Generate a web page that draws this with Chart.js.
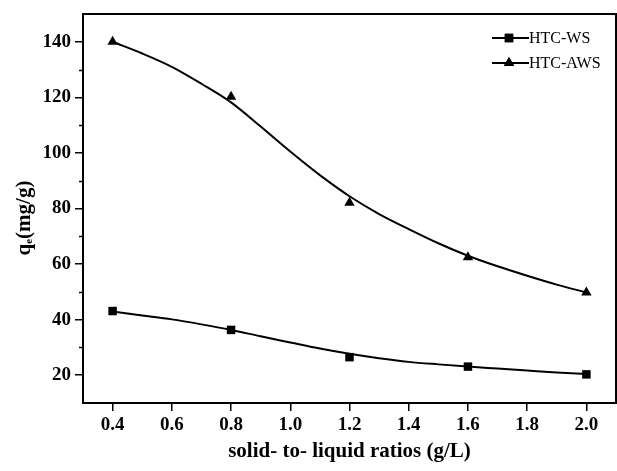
<!DOCTYPE html>
<html>
<head>
<meta charset="utf-8">
<script src="https://cdn.jsdelivr.net/npm/chart.js@4"></script>
<style>
    html, body { margin: 0; padding: 0; background: #fff; }
    #wrap { width: 617px; height: 471px; }
</style>
</head>
<body>
<div id="wrap"><canvas id="qeChart" width="617" height="471"></canvas></div>
<script>
// ============================================
// DADOS
// ============================================

const ratios = [0.4, 0.8, 1.2, 1.6, 2.0];
const wsValues = [43.1, 36.3, 26.5, 23.1, 20.3];
const awsValues = [140.0, 120.2, 82.1, 62.5, 49.8];

// curvas de ajuste, lidas ponto a ponto
const fitX = [0.4, 0.5, 0.6, 0.7, 0.8, 0.9, 1.0, 1.1, 1.2, 1.3, 1.4, 1.5, 1.6, 1.7, 1.8, 1.9, 2.0];
const wsFit = [42.9, 41.5, 40.1, 38.3, 36.3, 34.0, 31.8, 29.6, 27.7, 26.1, 24.8, 23.9, 23.1, 22.4, 21.7, 21.0, 20.4];
const awsFit = [140.0, 135.8, 131.0, 124.9, 118.2, 109.5, 100.5, 92.0, 84.4, 78.0, 72.6, 67.5, 63.0, 59.2, 55.8, 52.6, 49.8];

const xTicks = [0.4, 0.6, 0.8, 1.0, 1.2, 1.4, 1.6, 1.8, 2.0];
const yTicks = [20, 40, 60, 80, 100, 120, 140];
const yMinor = [30, 50, 70, 90, 110, 130];

const seriesNames = ['HTC-WS', 'HTC-AWS'];

const serif = "'Liberation Serif', 'Times New Roman', serif";
const toXY = (xs, ys) => xs.map((x, i) => ({ x: x, y: ys[i] }));

// ============================================
// PLUGIN: moldura, ticks menores, título Y e legenda
// ============================================

const framePlugin = {
    id: 'frame',
    afterDraw(chart) {
        const ctx = chart.ctx;
        const a = chart.chartArea;
        const yScale = chart.scales.y;
        ctx.save();
        ctx.strokeStyle = '#000';
        ctx.lineWidth = 2;
        ctx.strokeRect(a.left, a.top, a.right - a.left, a.bottom - a.top);

        // ticks menores do eixo Y
        ctx.lineWidth = 1.5;
        yMinor.forEach(v => {
            const py = Math.round(yScale.getPixelForValue(v)) + 0.5;
            ctx.beginPath();
            ctx.moveTo(a.left - 4, py);
            ctx.lineTo(a.left, py);
            ctx.stroke();
        });

        // título do eixo Y com subscrito
        ctx.translate(25, 218);
        ctx.rotate(-Math.PI / 2);
        ctx.fillStyle = '#000';
        ctx.textBaseline = 'middle';
        const big = 'bold 21px ' + serif;
        const small = 'bold 11px ' + serif;
        ctx.font = big;
        const wq = ctx.measureText('q').width;
        const wRest = ctx.measureText('(mg/g)').width;
        ctx.font = small;
        const we = ctx.measureText('e').width;
        let x0 = -(wq + we + wRest) / 2;
        ctx.font = big;
        ctx.fillText('q', x0, 0);
        ctx.font = small;
        ctx.fillText('e', x0 + wq, 4);
        ctx.font = big;
        ctx.fillText('(mg/g)', x0 + wq + we, 0);
        ctx.restore();

        // legenda
        ctx.save();
        ctx.strokeStyle = '#000';
        ctx.fillStyle = '#000';
        ctx.lineWidth = 2;
        ctx.font = '16px ' + serif;
        ctx.textBaseline = 'middle';
        const rows = [38, 63];
        const styles = ['rect', 'triangle'];
        rows.forEach((ry, i) => {
            ctx.beginPath();
            ctx.moveTo(492, ry);
            ctx.lineTo(529, ry);
            ctx.stroke();
            Chart.helpers.drawPoint(ctx, { pointStyle: styles[i], radius: 6, borderWidth: 0 }, 509, ry);
            ctx.fill();
            ctx.fillText(seriesNames[i], 529, ry + 1);
        });
        ctx.restore();
    }
};

// ============================================
// GRÁFICO
// ============================================

const ctx = document.getElementById('qeChart');
new Chart(ctx, {
    type: 'scatter',
    data: {
        datasets: [
            {
                label: seriesNames[0] + ' fit',
                data: toXY(fitX, wsFit),
                showLine: true,
                borderColor: '#000',
                borderWidth: 2,
                pointRadius: 0,
                cubicInterpolationMode: 'monotone',
                fill: false
            },
            {
                label: seriesNames[1] + ' fit',
                data: toXY(fitX, awsFit),
                showLine: true,
                borderColor: '#000',
                borderWidth: 2,
                pointRadius: 0,
                cubicInterpolationMode: 'monotone',
                fill: false
            },
            {
                label: seriesNames[0],
                data: toXY(ratios, wsValues),
                pointStyle: 'rect',
                pointRadius: 6,
                backgroundColor: '#000',
                borderWidth: 0
            },
            {
                label: seriesNames[1],
                data: toXY(ratios, awsValues),
                pointStyle: 'triangle',
                pointRadius: 6,
                backgroundColor: '#000',
                borderWidth: 0
            }
        ]
    },
    options: {
        responsive: false,
        animation: false,
        layout: { autoPadding: false, padding: { left: 0, right: 1, top: 14, bottom: 0 } },
        plugins: {
            legend: { display: false },
            tooltip: { enabled: false }
        },
        scales: {
            x: {
                type: 'linear',
                min: 0.3,
                max: 2.1,
                afterBuildTicks: s => { s.ticks = xTicks.map(v => ({ value: v })); },
                afterFit: s => { s.height = 68; s.paddingLeft = 0; s.paddingRight = 0; },
                border: { display: false },
                grid: {
                    drawOnChartArea: false,
                    drawTicks: true,
                    tickLength: 8,
                    color: '#000',
                    lineWidth: 1.5
                },
                ticks: {
                    color: '#000',
                    padding: 3,
                    maxRotation: 0,
                    font: { family: serif, size: 19, weight: 'bold' },
                    callback: v => v.toFixed(1)
                },
                title: {
                    display: true,
                    text: 'solid- to- liquid ratios (g/L)',
                    color: '#000',
                    font: { family: serif, size: 21, weight: 'bold' },
                    padding: { top: 0, bottom: 7 }
                }
            },
            y: {
                type: 'linear',
                min: 10,
                max: 150,
                afterBuildTicks: s => { s.ticks = yTicks.map(v => ({ value: v })); },
                afterFit: s => { s.width = 83; s.paddingTop = 0; s.paddingBottom = 0; },
                border: { display: false },
                grid: {
                    drawOnChartArea: false,
                    drawTicks: true,
                    tickLength: 8,
                    color: '#000',
                    lineWidth: 1.5
                },
                ticks: {
                    color: '#000',
                    padding: 4,
                    font: { family: serif, size: 19, weight: 'bold' }
                }
            }
        }
    },
    plugins: [framePlugin]
});
</script>
</body>
</html>
